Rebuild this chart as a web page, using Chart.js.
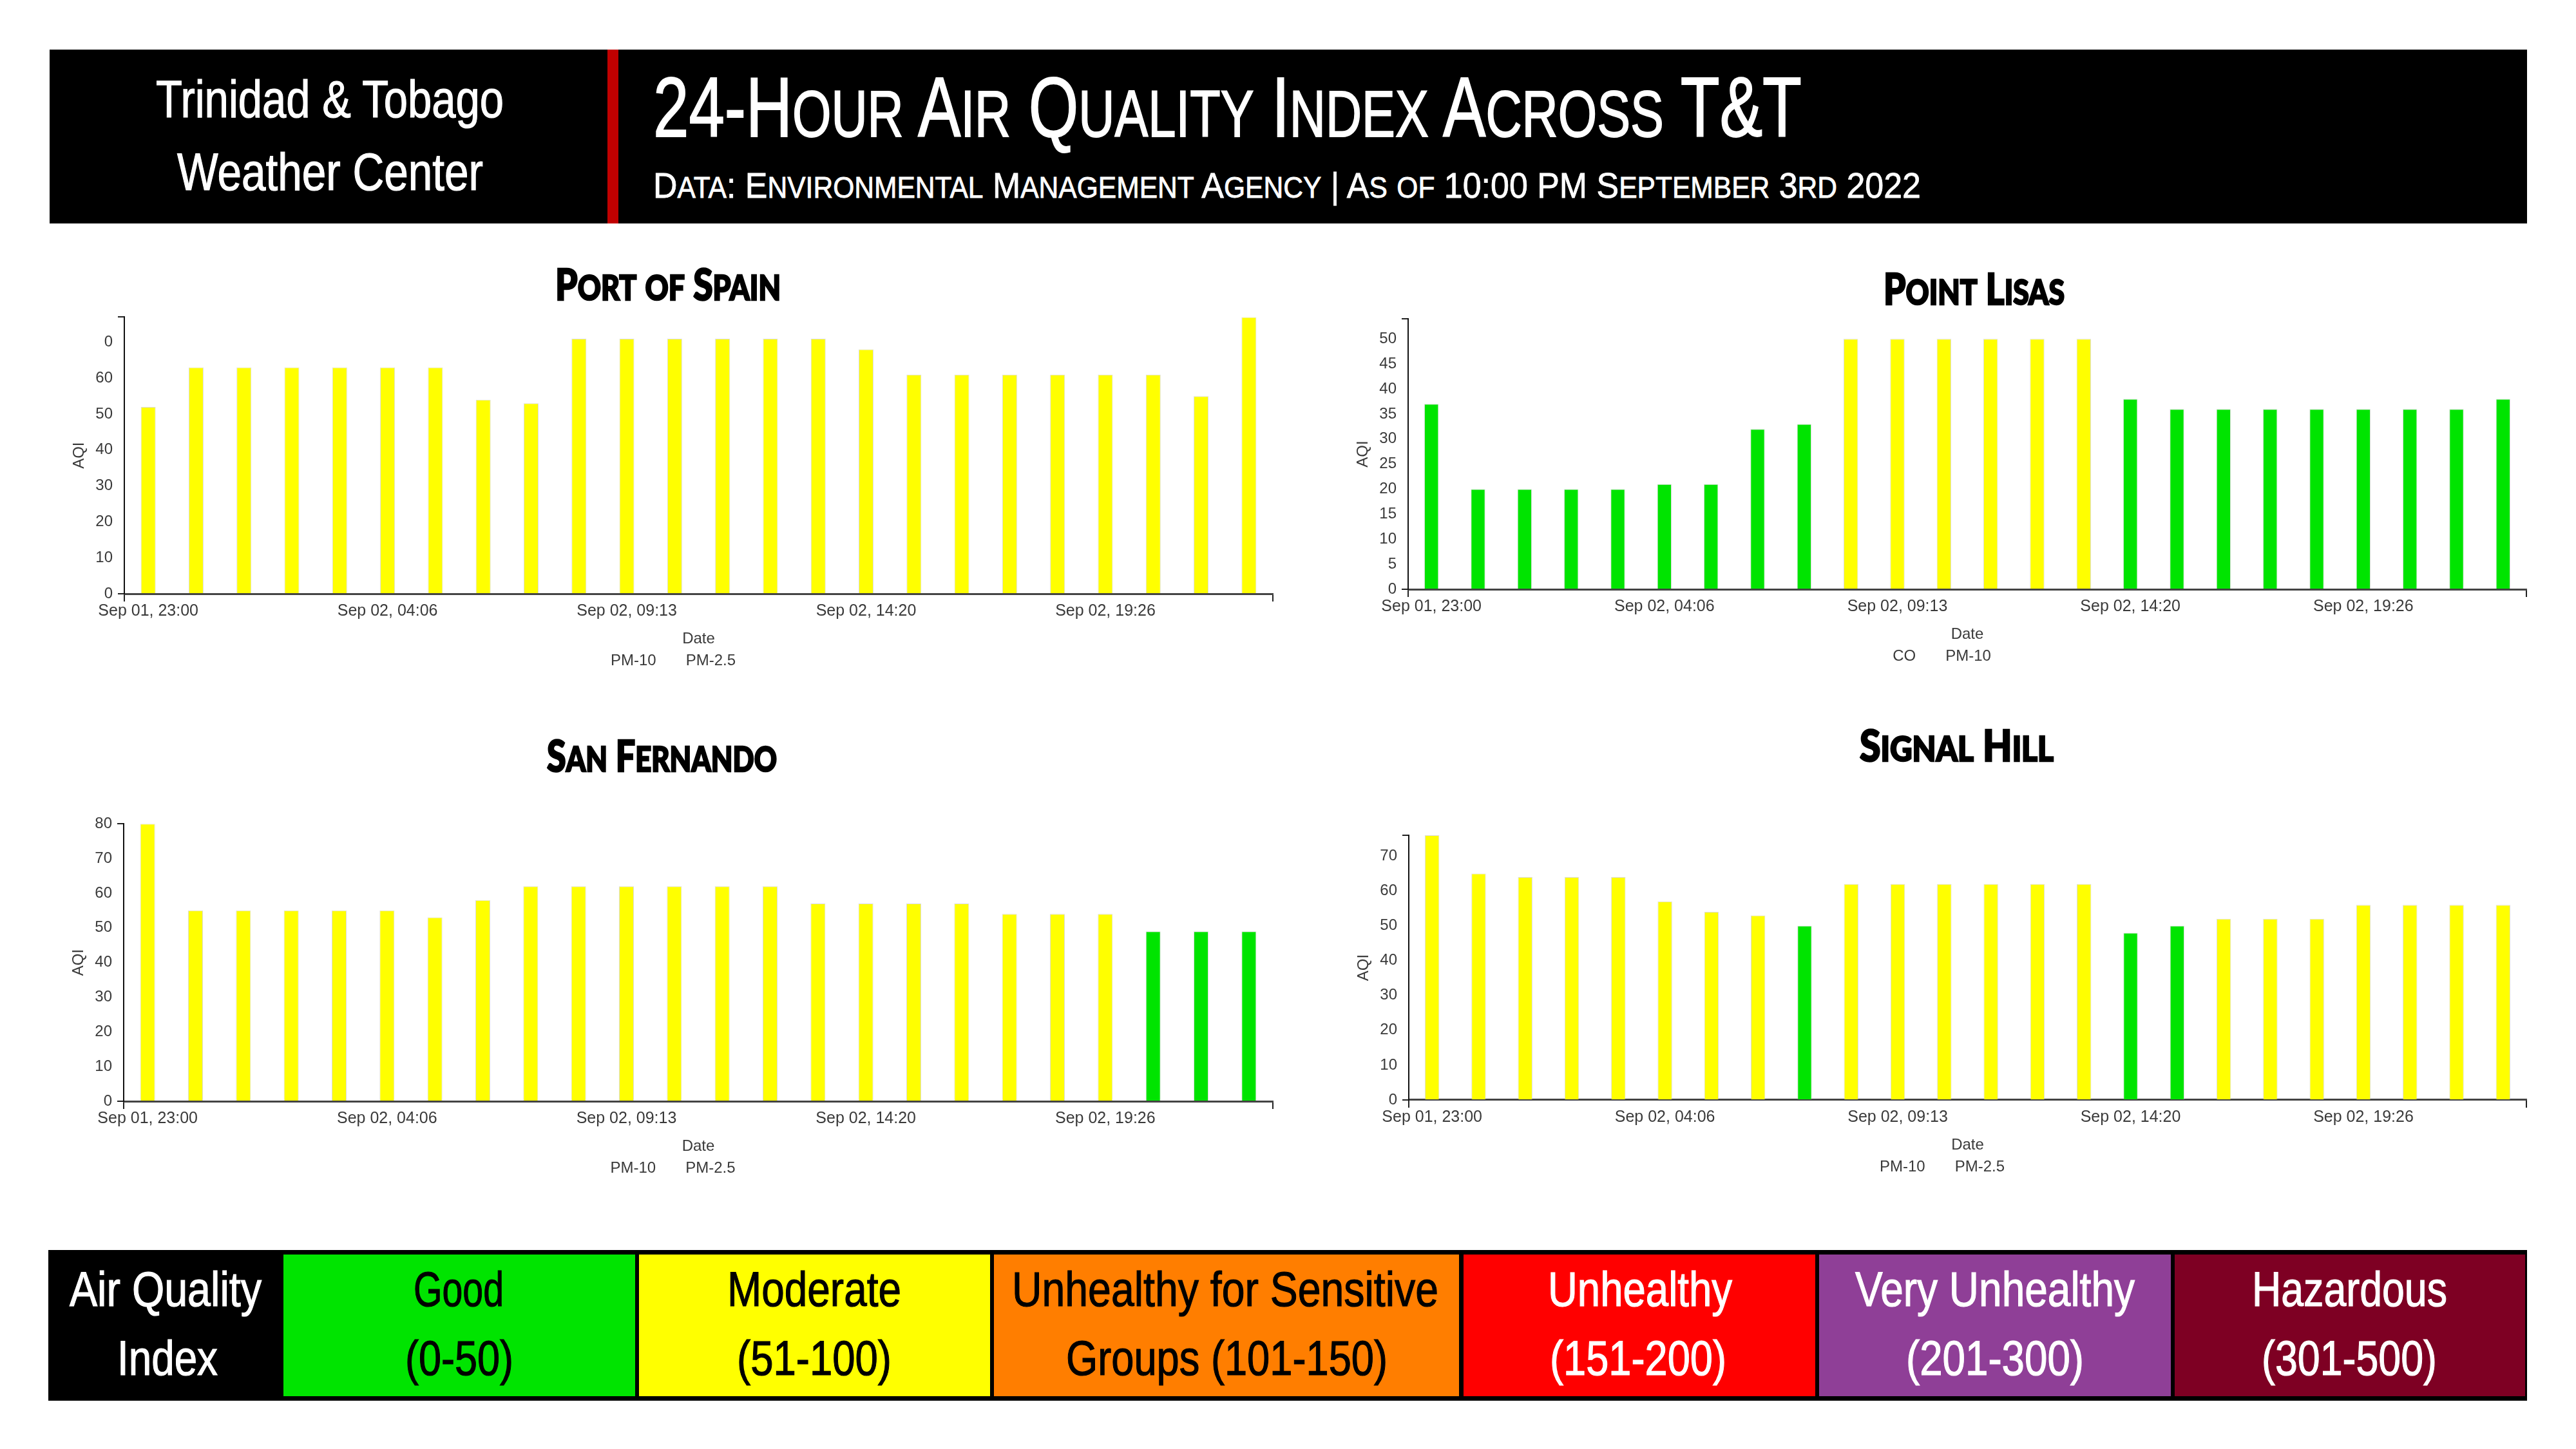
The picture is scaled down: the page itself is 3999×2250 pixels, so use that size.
<!DOCTYPE html>
<html>
<head>
<meta charset="utf-8">
<script src="https://cdn.jsdelivr.net/npm/chart.js@4.4.1/dist/chart.umd.min.js"></script>
<style>
  html, body { margin:0; padding:0; background:#fff; }
  body { width:3999px; height:2250px; position:relative; overflow:hidden; }
  .box { position:absolute; }
  canvas { position:absolute; z-index:2; }
</style>
</head>
<body>
<div class="box" style="left:77px;top:77px;width:3846px;height:270px;background:#000;"></div>
<div class="box" style="left:943px;top:77px;width:17px;height:270px;background:#C10000;"></div>

<div class="box" style="left:75px;top:1941px;width:3848px;height:234px;background:#000;"></div>
<div class="box" style="left:440px;top:1948px;width:546px;height:220px;background:#00E400;"></div>
<div class="box" style="left:992px;top:1948px;width:545px;height:220px;background:#FFFF00;"></div>
<div class="box" style="left:1543px;top:1948px;width:722px;height:220px;background:#FF7E00;"></div>
<div class="box" style="left:2272px;top:1948px;width:546px;height:220px;background:#FF0000;"></div>
<div class="box" style="left:2824px;top:1948px;width:546px;height:220px;background:#8F3F97;"></div>
<div class="box" style="left:3376px;top:1948px;width:544px;height:220px;background:#7E0023;"></div>

<script>
// ---------------- DATA ----------------
const categories = [
  'Sep 01, 23:00','Sep 02, 00:00','Sep 02, 01:00','Sep 02, 02:00','Sep 02, 03:00','Sep 02, 04:00',
  'Sep 02, 05:00','Sep 02, 06:00','Sep 02, 07:00','Sep 02, 08:00','Sep 02, 09:00','Sep 02, 10:00',
  'Sep 02, 11:00','Sep 02, 12:00','Sep 02, 13:00','Sep 02, 14:00','Sep 02, 15:00','Sep 02, 16:00',
  'Sep 02, 17:00','Sep 02, 18:00','Sep 02, 19:00','Sep 02, 20:00','Sep 02, 21:00','Sep 02, 22:00'
];
const xTickIndex = [0, 5, 10, 15, 20];
const xTickText = ['Sep 01, 23:00', 'Sep 02, 04:06', 'Sep 02, 09:13', 'Sep 02, 14:20', 'Sep 02, 19:26'];

const portOfSpainAQI = [52,63,63,63,63,63,63,54,53,71,71,71,71,71,71,68,61,61,61,61,61,61,55,77];
const portOfSpainBand = ['M','M','M','M','M','M','M','M','M','M','M','M','M','M','M','M','M','M','M','M','M','M','M','M'];
const portOfSpainAxisMax = 77;
const portOfSpainTicks = [0,10,20,30,40,50,60,70];
const portOfSpainTickLabels = ['0','10','20','30','40','50','60','0'];
const portOfSpainLegend = ['PM-10','PM-2.5'];

const pointLisasAQI = [37,20,20,20,20,21,21,32,33,50,50,50,50,50,50,38,36,36,36,36,36,36,36,38];
const pointLisasBand = ['G','G','G','G','G','G','G','G','G','M','M','M','M','M','M','G','G','G','G','G','G','G','G','G'];
const pointLisasAxisMax = 54;
const pointLisasTicks = [0,5,10,15,20,25,30,35,40,45,50];
const pointLisasTickLabels = ['0','5','10','15','20','25','30','35','40','45','50'];
const pointLisasLegend = ['CO','PM-10'];

const sanFernandoAQI = [80,55,55,55,55,55,53,58,62,62,62,62,62,62,57,57,57,57,54,54,54,49,49,49];
const sanFernandoBand = ['M','M','M','M','M','M','M','M','M','M','M','M','M','M','M','M','M','M','M','M','M','G','G','G'];
const sanFernandoAxisMax = 80;
const sanFernandoTicks = [0,10,20,30,40,50,60,70,80];
const sanFernandoTickLabels = ['0','10','20','30','40','50','60','70','80'];
const sanFernandoLegend = ['PM-10','PM-2.5'];

const signalHillAQI = [76,65,64,64,64,57,54,53,50,62,62,62,62,62,62,48,50,52,52,52,56,56,56,56];
const signalHillBand = ['M','M','M','M','M','M','M','M','G','M','M','M','M','M','M','G','G','M','M','M','M','M','M','M'];
const signalHillAxisMax = 76;
const signalHillTicks = [0,10,20,30,40,50,60,70];
const signalHillTickLabels = ['0','10','20','30','40','50','60','70'];
const signalHillLegend = ['PM-10','PM-2.5'];

const bandColor = { G: '#00E400', M: '#FFFF00' };

// ---------------- TEXT HELPERS ----------------
function esc(s) {
  return s.replace(/&/g, '&amp;').replace(/</g, '&lt;').replace(/>/g, '&gt;');
}
function smallCaps(str, ratio) {
  return str.split(/([a-z]+)/).map((part, i) =>
    (i % 2 === 1)
      ? `<span style="font-size:${ratio}em;text-transform:uppercase">${esc(part)}</span>`
      : esc(part)
  ).join('');
}
function placeText(html, o) {
  const d = document.createElement('div');
  d.style.cssText = `position:absolute;left:0;top:0;white-space:nowrap;line-height:1;font-family:${o.family};` +
    `font-weight:${o.weight || 400};font-size:${o.size}px;color:${o.color};z-index:5;` +
    (o.stroke ? `-webkit-text-stroke:${o.stroke}px ${o.color};` : '');
  d.innerHTML = html + '<span class="bl" style="display:inline-block;width:0;height:0;vertical-align:baseline"></span>';
  document.body.appendChild(d);
  const r = d.getBoundingClientRect();
  const bl = d.querySelector('.bl').getBoundingClientRect().top - r.top;
  const s = o.width ? o.width / r.width : (o.scale || 1);
  const w = r.width * s;
  const left = o.align === 'left' ? o.x : o.x - w / 2;
  d.style.left = left + 'px';
  d.style.top = (o.baseline - bl) + 'px';
  d.style.transformOrigin = '0 0';
  d.style.transform = `scaleX(${s})`;
}

const SANS = '"Liberation Sans", Arial, sans-serif';
const HEAVY = 'Lato, Roboto, "Liberation Sans", sans-serif';

// header
placeText(esc('Trinidad & Tobago'), {family: SANS, size: 81, color: '#fff', x: 512, baseline: 182, width: 540, stroke: 1.2});
placeText(esc('Weather Center'), {family: SANS, size: 81, color: '#fff', x: 512, baseline: 295, width: 475, stroke: 1.2});
placeText(smallCaps('24-Hour Air Quality Index Across T&T', 0.78), {family: SANS, size: 131, color: '#fff', x: 1014, align: 'left', baseline: 212, width: 1783, stroke: 1.8});
placeText(smallCaps('Data: Environmental Management Agency | As of 10:00 PM September 3rd 2022', 0.82), {family: SANS, size: 56, color: '#fff', x: 1014, align: 'left', baseline: 307, width: 1968, stroke: 0.8});

// chart titles
const titleOpts = {family: HEAVY, weight: 900, size: 66, color: '#000', stroke: 2.5};
placeText(smallCaps('Port of Spain', 0.81), Object.assign({}, titleOpts, {x: 1037, baseline: 466, width: 350}));
placeText(smallCaps('Point Lisas', 0.81), Object.assign({}, titleOpts, {x: 3064, baseline: 473, width: 281}));
placeText(smallCaps('San Fernando', 0.81), Object.assign({}, titleOpts, {x: 1027, baseline: 1198, width: 357}));
placeText(smallCaps('Signal Hill', 0.81), Object.assign({}, titleOpts, {x: 3037, baseline: 1182, width: 301}));

// AQI scale bar
const scaleTexts = [
  ['Air Quality', 257, 2028, 298, '#fff'], ['Index', 260, 2135, 156, '#fff'],
  ['Good', 712, 2028, 140, '#000'], ['(0-50)', 713, 2135, 168, '#000'],
  ['Moderate', 1264, 2028, 270, '#000'], ['(51-100)', 1264, 2135, 240, '#000'],
  ['Unhealthy for Sensitive', 1902, 2028, 662, '#000'], ['Groups (101-150)', 1904, 2135, 499, '#000'],
  ['Unhealthy', 2546, 2028, 286, '#fff'], ['(151-200)', 2543, 2135, 274, '#fff'],
  ['Very Unhealthy', 3097, 2028, 434, '#fff'], ['(201-300)', 3097, 2135, 276, '#fff'],
  ['Hazardous', 3647, 2028, 303, '#fff'], ['(301-500)', 3647, 2135, 272, '#fff']
];
scaleTexts.forEach(t => placeText(esc(t[0]), {family: SANS, size: 76, color: t[4], x: t[1], baseline: t[2], width: t[3], stroke: 1.2}));

// ---------------- CHARTS ----------------
const TXT = '#3a3a3a';
function makeChart(box, plot, values, bands, axisMax, yTicks, yTickLabels, legendLabels) {
  const canvas = document.createElement('canvas');
  canvas.width = box.w; canvas.height = box.h;
  canvas.style.left = box.x + 'px'; canvas.style.top = box.y + 'px';
  canvas.style.width = box.w + 'px'; canvas.style.height = box.h + 'px';
  document.body.appendChild(canvas);
  const chart = new Chart(canvas, {
    type: 'bar',
    data: {
      labels: categories,
      datasets: [{
        label: 'AQI',
        data: values,
        backgroundColor: bands.map(b => bandColor[b]),
        borderColor: 'rgba(190,190,190,0.55)',
        borderWidth: {top: 1, left: 1, right: 1, bottom: 0},
        borderSkipped: 'bottom',
        barPercentage: 0.31,
        categoryPercentage: 1
      }]
    },
    options: {
      responsive: false, animation: false, devicePixelRatio: 1,
      layout: {padding: {left: 0, right: 0, top: 0, bottom: 0}},
      plugins: {
        tooltip: {enabled: false},
        legend: {
          position: 'bottom',
          onClick: null,
          labels: {
            font: {family: SANS, size: 24}, color: TXT, boxWidth: 26, boxHeight: 0, padding: 8,
            generateLabels: () => legendLabels.map((t, i) => ({
              text: t, fillStyle: 'rgba(0,0,0,0)', strokeStyle: 'rgba(0,0,0,0)', lineWidth: 0,
              hidden: false, fontColor: TXT, datasetIndex: 0, index: i
            }))
          }
        }
      },
      scales: {
        x: {
          type: 'category', offset: true,
          grid: {
            display: true, offset: true, drawOnChartArea: false, drawTicks: true, tickLength: 12, lineWidth: 2,
            color: ctx => (ctx.type === 'scale' || ctx.index === 0) ? '#222' : 'rgba(0,0,0,0)'
          },
          border: {display: true, color: '#444', width: 3},
          ticks: {
            autoSkip: false, maxRotation: 0, minRotation: 0, padding: 0, color: TXT,
            font: {family: SANS, size: 25},
            callback: (v, i) => { const k = xTickIndex.indexOf(i); return k >= 0 ? xTickText[k] : ''; }
          },
          title: {display: true, text: 'Date', color: TXT, font: {family: SANS, size: 24}, padding: {top: 14, bottom: 0}}
        },
        y: {
          type: 'linear', min: 0, max: axisMax,
          afterBuildTicks: s => {
            const vals = yTicks.includes(axisMax) ? yTicks.slice() : yTicks.concat([axisMax]);
            s.ticks = vals.map(v => ({value: v}));
          },
          afterFit: s => { s.width = 117; },
          grid: {
            drawOnChartArea: false, drawTicks: true, tickLength: 10, lineWidth: 2,
            color: ctx => (ctx.tick && (ctx.tick.value === 0 || ctx.tick.value === axisMax)) ? '#222' : 'rgba(0,0,0,0)'
          },
          border: {display: true, color: '#111', width: 2},
          ticks: {
            padding: 8, color: TXT, font: {family: SANS, size: 24},
            callback: v => { const k = yTicks.indexOf(v); return k >= 0 ? yTickLabels[k] : ''; }
          },
          title: {display: true, text: 'AQI', color: TXT, font: {family: SANS, size: 24}, padding: {top: 33, bottom: 0}}
        }
      }
    }
  });
  for (let it = 0; it < 2; it++) {
    const ca = chart.chartArea;
    const p = chart.options.layout.padding;
    chart.options.layout.padding = {
      left: p.left + (plot.left - box.x - ca.left),
      right: p.right + (ca.right - (plot.right - box.x)),
      top: p.top + (plot.top - box.y - ca.top),
      bottom: p.bottom + (ca.bottom - (plot.bottom - box.y))
    };
    chart.update();
  }
  return chart;
}

makeChart({x: 60, y: 470, w: 1960, h: 600}, {left: 193, right: 1976, top: 497, bottom: 922},
  portOfSpainAQI, portOfSpainBand, portOfSpainAxisMax, portOfSpainTicks, portOfSpainTickLabels, portOfSpainLegend);
makeChart({x: 2050, y: 470, w: 1940, h: 600}, {left: 2186, right: 3922, top: 505, bottom: 915},
  pointLisasAQI, pointLisasBand, pointLisasAxisMax, pointLisasTicks, pointLisasTickLabels, pointLisasLegend);
makeChart({x: 60, y: 1250, w: 1960, h: 640}, {left: 192, right: 1976, top: 1287, bottom: 1710},
  sanFernandoAQI, sanFernandoBand, sanFernandoAxisMax, sanFernandoTicks, sanFernandoTickLabels, sanFernandoLegend);
makeChart({x: 2050, y: 1250, w: 1940, h: 640}, {left: 2187, right: 3922, top: 1297, bottom: 1708},
  signalHillAQI, signalHillBand, signalHillAxisMax, signalHillTicks, signalHillTickLabels, signalHillLegend);
</script>
</body>
</html>
